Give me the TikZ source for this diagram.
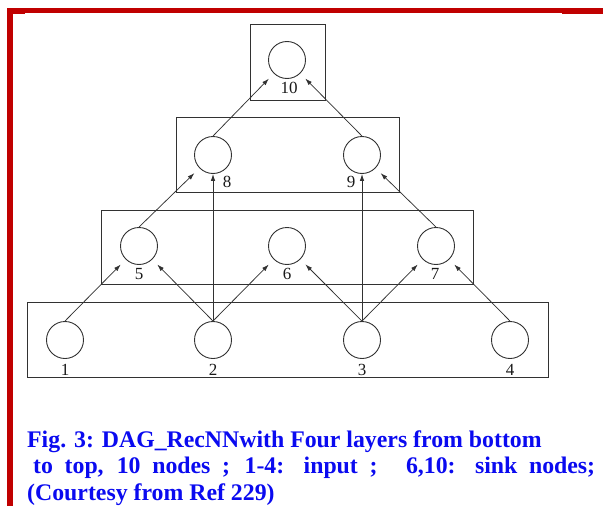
\documentclass[tikz,border=0pt]{standalone}
\usepackage{fontspec}
\setmainfont{Liberation Serif}
\usetikzlibrary{arrows.meta}
\definecolor{framered}{RGB}{192,0,0}
\definecolor{capblue}{RGB}{10,10,240}
\definecolor{linegray}{RGB}{50,50,50}
\tikzset{
  unit/.style={circle, draw=linegray, line width=0.9pt, minimum size=37pt, inner sep=0pt},
  layerbox/.style={draw=linegray, line width=0.9pt, inner sep=0pt},
  lbl/.style={font=\fontsize{17}{17}\selectfont, inner sep=0pt, text=black!90},
  edge/.style={draw=linegray, line width=0.75pt, -{Latex[length=7pt,width=4.5pt]}},
  diag/.style={edge, shorten >=7pt},
  vert/.style={edge},
  captext/.style={font=\fontsize{23.8}{26}\selectfont\bfseries, text=capblue, inner sep=0pt, anchor=base west}
}
\begin{document}
\begin{tikzpicture}[x=1pt,y=-1pt]
\useasboundingbox (0,0) rectangle (603,506);
% red frame
\fill[framered] (7,8) rectangle (603,13);
\fill[framered] (7,8) rectangle (13,506);
\fill[framered] (13,13) rectangle (25,14);
\fill[framered] (562,13) rectangle (603,14);
% layer boxes
\node[layerbox, minimum width=75pt, minimum height=76pt] (B4) at (287.5,62) {};
\node[layerbox, minimum width=223pt, minimum height=75pt] (B3) at (287.5,154.5) {};
\node[layerbox, minimum width=372pt, minimum height=74pt] (B2) at (287,247) {};
\node[layerbox, minimum width=521pt, minimum height=75pt] (B1) at (287.5,339.5) {};
% nodes
\node[unit] (n10) at (287,60) {};
\node[unit] (n8) at (213,155) {};
\node[unit] (n9) at (362,155) {};
\node[unit] (n5) at (139,246) {};
\node[unit] (n6) at (287,246) {};
\node[unit] (n7) at (436,246) {};
\node[unit] (n1) at (65,340) {};
\node[unit] (n2) at (213,340) {};
\node[unit] (n3) at (362,340) {};
\node[unit] (n4) at (510,340) {};
% labels
\node[lbl] (l10) at (289,88) {10};
\node[lbl] (l8) at (227,182) {8};
\node[lbl] (l9) at (351,182) {9};
\node[lbl] (l5) at (139,274) {5};
\node[lbl] (l6) at (287,274) {6};
\node[lbl] (l7) at (435,274) {7};
\node[lbl] (l1) at (65,370) {1};
\node[lbl] (l2) at (213,370) {2};
\node[lbl] (l3) at (362,370) {3};
\node[lbl] (l4) at (510,370) {4};
% edges
\draw[diag] (n1.north) -- (n5);
\draw[diag] (n2.north) -- (n5);
\draw[diag] (n2.north) -- (n6);
\draw[diag] (n3.north) -- (n6);
\draw[diag] (n3.north) -- (n7);
\draw[diag] (n4.north) -- (n7);
\draw[vert] (n2.north) -- (n8);
\draw[vert] (n3.north) -- (n9);
\draw[diag] (n5.north) -- (n8);
\draw[diag] (n7.north) -- (n9);
\draw[diag] (n8.north) -- (n10);
\draw[diag] (n9.north) -- (n10);
% caption
\node[captext] (c1) at (27,447) {Fig. 3: DAG\_RecNNwith Four layers from bottom};
\node[captext] (c2) at (33,473) {\makebox[562pt][s]{to top, 10 nodes ; 1-4: input ;\hspace{14pt} 6,10: sink nodes;}};
\node[captext] (c3) at (27,500) {(Courtesy from Ref 229)};
\end{tikzpicture}
\end{document}
